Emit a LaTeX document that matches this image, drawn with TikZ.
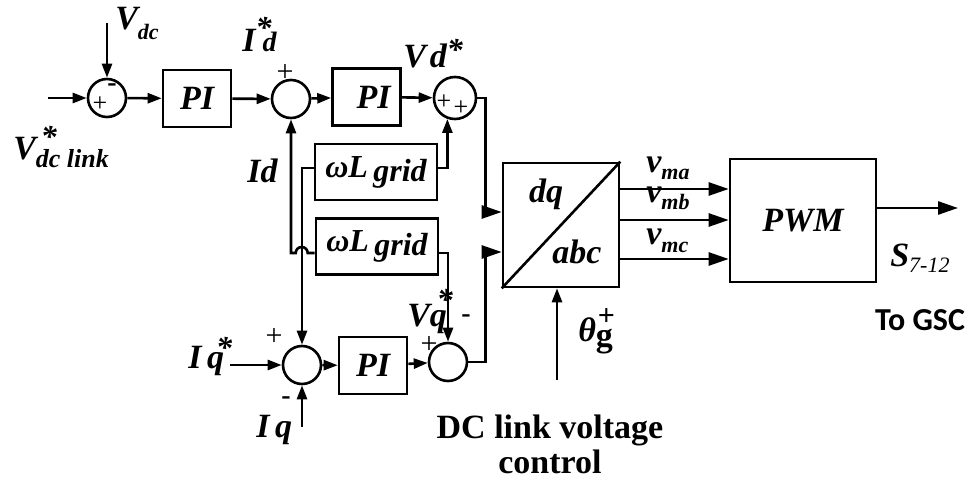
\documentclass[tikz,border=0pt]{standalone}
\usepackage{fontspec}
\setmainfont{Liberation Serif}
\newfontfamily\gscfont{Carlito}
\usetikzlibrary{arrows.meta,calc}
\newcommand{\lsub}[3][-3pt]{#2\raisebox{#1}{\fontsize{11}{11}\selectfont #3}}
\newcommand{\lstar}[1][5pt]{\raisebox{#1}{\fontsize{16}{16}\selectfont *}}

\begin{document}
\begin{tikzpicture}[x=0.5pt,y=-0.5pt,line width=1.3pt,>={Triangle[length=7pt,width=5pt]},
	font=\fontsize{17}{20}\selectfont\bfseries\itshape,
	sumj/.style={circle,draw,minimum size=19pt,inner sep=0pt},
	blk/.style={draw,minimum width=34pt,minimum height=28.5pt,inner sep=0pt},
	wblk/.style={draw,minimum width=61pt,minimum height=28pt,inner sep=0pt,font=\fontsize{16}{18}\selectfont\bfseries\itshape},
	sgn/.style={inner sep=0pt,font=\fontsize{13}{13}\selectfont\mdseries\upshape},
	lbl/.style={anchor=base west,inner sep=0pt},
	bigtip/.style={-{Triangle[length=10pt,width=6.5pt]}}]
	\useasboundingbox (0,0) rectangle (969,486);
	% d axis
	\node[sumj] (s1) at (107,98) {};
	\node[blk] (pi1) at (197,98.5) {PI};
	\node[sumj] (s2) at (291,99) {};
	\node[blk] (pi2) at (366.5,97) {\hspace{7pt}PI};
	\node[sumj,minimum size=21pt] (s3) at (455,98) {};
	\node[wblk] (wl1) at (376,172) {ωL\,\raisebox{-2pt}{grid}};
	\node[wblk] (wl2) at (377,246.5) {ωL\,\raisebox{-2pt}{grid}};
	% q axis
	\node[sumj] (s4) at (302,365) {};
	\node[blk] (pi3) at (373,365.5) {PI};
	\node[sumj] (s5) at (448,362) {};
	% dq/abc and PWM
	\node[draw,minimum width=58pt,minimum height=62pt,inner sep=0pt] (conv) at (561,225) {};
	\node[draw,minimum width=73pt,minimum height=61.5pt,inner sep=0pt] (pwm) at (803,220.5) {PWM};
	\draw (conv.south west) -- (conv.north east);
	\node (dq) at ($(conv.center)+(-15,-31)$) {dq};
	\node (abc) at ($(conv.center)+(16,27)$) {abc};

	\coordinate (vref) at (48,98);
	\coordinate (vdc) at (107,23);
	\coordinate (iqref) at (230,365);
	\coordinate (iqfb) at (302,427);
	\coordinate (thg) at (557,380);
	\coordinate (sout) at (958,208);
	\coordinate (w1l) at ($(wl1.west)+(0,-4)$);
	\coordinate (w1r) at ($(wl1.east)+(0,-4)$);
	\coordinate (w2l) at ($(wl2.west)+(0,6.5)$);
	\coordinate (w2r) at ($(wl2.east)+(0,6.5)$);

	\draw[->] (vref) -- (s1);
	\draw[->] (vdc) -- (s1);
	\draw[->] (s1) -- (pi1);
	\draw[->] (pi1) -- (s2);
	\draw[->] (s2) -- (pi2);
	\draw[->] (pi2) -- (s3);
	\draw[->] (w1r) -| (s3.-110);
	\draw[->] (w1l) -| (s4.north);
	\draw[->] (w2l) -- ++(-7,0) arc[start angle=0,end angle=-180,radius=6] -- (s2.south |- w2l) -- (s2.south);
	\draw[->] (w2r) -| (s5.north);
	\draw[->] (iqref) -- (s4);
	\draw[->] (iqfb) -- (s4);
	\draw[->] (s4) -- (pi3);
	\draw[->] (pi3) -- (s5);
	\draw[bigtip] (s3.east) -- ++(8,0) |- ($(conv.west)+(0,-13)$);
	\draw[bigtip] (s5.east) -- ++(17,0) |- ($(conv.west)+(0,27)$);
	\foreach \dy in {-36,-5,34}
		\draw[bigtip] ($(conv.east)+(0,\dy)$) -- ($(pwm.west |- conv.east)+(0,\dy)$);
	\draw[->] (thg) -- (thg |- conv.south);
	\draw[bigtip] (pwm.east |- sout) -- (sout);

	% signs
	\node[sgn] (p1) at (100,104) {+};
	\node[sgn,font=\fontsize{14}{14}\selectfont\bfseries\upshape] (m1) at (112,88) {-};
	\node[sgn,font=\fontsize{15}{15}\selectfont\mdseries\upshape] (p2) at (285,73) {+};
	\node[sgn] (p3a) at (444,102) {+};
	\node[sgn] (p3b) at (461,108) {+};
	\node[sgn,font=\fontsize{15}{15}\selectfont\mdseries\upshape] (p4) at (274,337) {+};
	\node[sgn,font=\fontsize{14}{14}\selectfont\bfseries\upshape] (m4) at (286,401) {-};
	\node[sgn,font=\fontsize{15}{15}\selectfont\mdseries\upshape] (p5) at (429,345) {+};
	\node[sgn,font=\fontsize{14}{14}\selectfont\bfseries\upshape] (m5) at (466,319) {-};

	% labels
	\node[lbl] (lvdc) at (114,30) {\lsub[-5pt]{V}{dc}};
	\node[lbl] (lvref) at (12,160) {V\rlap{\hspace{2.5pt}\lstar[6pt]}\raisebox{-4pt}{\fontsize{13}{13}\selectfont dc link}};
	\node[lbl] (lidref) at (241,52) {I\rlap{\lstar[6.5pt]}\hspace{3.5pt}{\fontsize{14}{14}\selectfont d}};
	\node[lbl] (lvdref) at (402,68) {V\hspace{2pt}d\lstar[3.5pt]};
	\node[lbl] (lid) at (246,183) {Id};
	\node[lbl] (liqref) at (187,368) {I\,q\hspace{-4pt}\lstar[5pt]};
	\node[lbl] (liq) at (255,437) {I\,q};
	\node[lbl] (lvq) at (406,327) {Vq\hspace{-5pt}\lstar[8pt]};
	\node[lbl] (lth) at (577,342) {θ\rlap{\hspace{1pt}\raisebox{8pt}{\fontsize{15}{15}\selectfont\upshape +}}\raisebox{-2pt}{\upshape g}};
	\node[lbl] (lvma) at (645,173) {\lsub[-3.5pt]{v}{ma}};
	\node[lbl] (lvmb) at (645,203) {\lsub[-3.5pt]{v}{mb}};
	\node[lbl] (lvmc) at (645,245) {\lsub[-4pt]{v}{mc}};
	\node[lbl] (ls) at (889,267) {S\raisebox{-2.5pt}{\fontsize{11}{11}\selectfont\mdseries 7-12}};
	\node[anchor=base,inner sep=0pt,font=\fontsize{16}{16}\selectfont\gscfont\bfseries] (lgsc) at (920,330) {To GSC};
	\node[anchor=base,inner sep=0pt,font=\fontsize{17}{17.5}\selectfont\bfseries\upshape,align=center] (ldc) at (550,473) {DC link voltage\\control};
\end{tikzpicture}
\end{document}
